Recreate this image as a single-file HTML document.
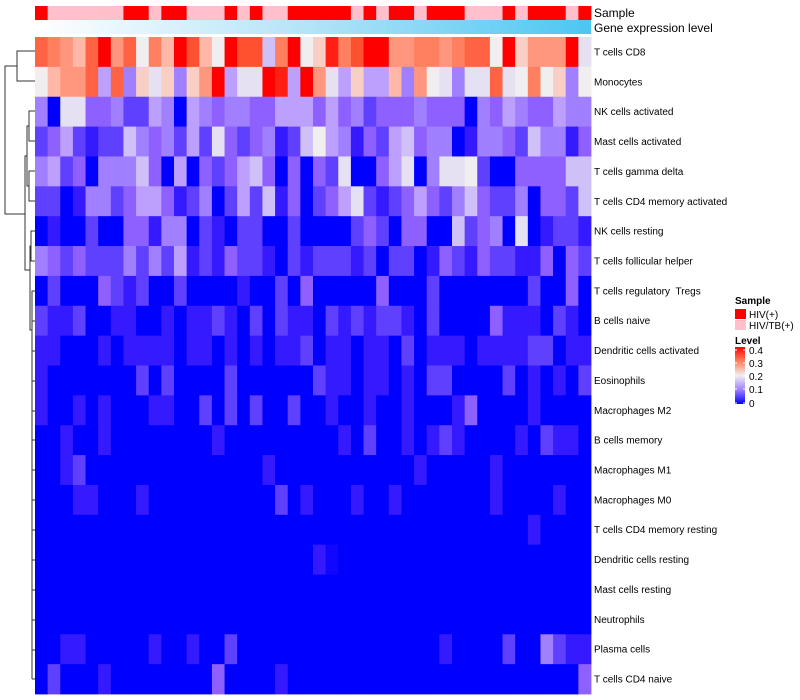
<!DOCTYPE html>
<html><head><meta charset="utf-8">
<style>
html,body{margin:0;padding:0;background:#fff;}
svg{display:block;font-family:"Liberation Sans",sans-serif;}
#labels text{white-space:pre;}
</style></head>
<body>
<svg id="chart" width="800" height="700" viewBox="0 0 800 700" xmlns="http://www.w3.org/2000/svg">
<defs>
<linearGradient id="geneGrad" x1="0" x2="1" y1="0" y2="0">
<stop offset="0" stop-color="#ffffff"/><stop offset="0.5" stop-color="#b2e3f7"/><stop offset="1" stop-color="#4cc6f2"/>
</linearGradient>
<linearGradient id="levelGrad" x1="0" x2="0" y1="1" y2="0">
<stop offset="0" stop-color="#0000ff"/><stop offset="0.25" stop-color="#a080ff"/><stop offset="0.5" stop-color="#f0eeee"/><stop offset="0.75" stop-color="#ff8060"/><stop offset="1" stop-color="#ff0000"/>
</linearGradient>
</defs>
<g id="dendro" stroke="#333" stroke-width="1" fill="none">
<path d="M35 51 H17 V81 H35"/>
<path d="M17 66 H5 V214 H25"/>
<path d="M35 111 H29 V141 H35 M35 171 H29 V201 H35 M29 126 H27 V186 H29"/>
<path d="M27 156 H25 V270 H30"/>
<path d="M35 231 H31 V261 H35 M31 246 H30 V330 H32"/>
<path d="M35 291 H32 V679 M32 321 H35 M32 351 H35 M32 381 H35 M32 411 H35 M32 440 H35 M32 470 H35 M32 500 H35 M32 530 H35 M32 560 H35 M32 590 H35 M32 620 H35 M32 650 H35 M32 679 H35"/>
</g>
<g id="cells"></g>
<g id="annot"></g>
<g id="labels" font-size="10" fill="#000"></g>
<text x="594" y="17" font-size="12">Sample</text>
<text x="594" y="32" font-size="12">Gene expression level</text>
<g>
<text x="735" y="304" font-size="10" font-weight="bold">Sample</text>
<rect x="735" y="309" width="11" height="10" fill="#ff0000"/>
<text x="749" y="318" font-size="10">HIV(+)</text>
<rect x="735" y="320" width="11" height="10" fill="#ffc0cb"/>
<text x="749" y="329" font-size="10">HIV/TB(+)</text>
<text x="735" y="344" font-size="10" font-weight="bold">Level</text>
<rect x="735" y="347" width="10" height="57" fill="url(#levelGrad)"/>
<g stroke="#fff" stroke-width="1">
<path d="M735 350H737M743 350H745M735 363H737M743 363H745M735 376H737M743 376H745M735 389H737M743 389H745M735 403H737M743 403H745"/>
</g>
<g font-size="10">
<text x="749" y="354">0.4</text><text x="749" y="367">0.3</text><text x="749" y="380">0.2</text><text x="749" y="393">0.1</text><text x="749" y="407">0</text>
</g>
</g>
</svg>
<script>
const rowNames = ["T cells CD8","Monocytes","NK cells activated","Mast cells activated","T cells gamma delta","T cells CD4 memory activated","NK cells resting","T cells follicular helper","T cells regulatory\u00a0\u00a0Tregs","B cells naive","Dendritic cells activated","Eosinophils","Macrophages M2","B cells memory","Macrophages M1","Macrophages M0","T cells CD4 memory resting","Dendritic cells resting","Mast cells resting","Neutrophils","Plasma cells","T cells CD4 naive"];
const sampleGroups = ["HIV","HIVTB","HIVTB","HIVTB","HIVTB","HIVTB","HIVTB","HIV","HIV","HIVTB","HIV","HIV","HIVTB","HIVTB","HIVTB","HIV","HIVTB","HIV","HIVTB","HIVTB","HIV","HIV","HIV","HIV","HIV","HIVTB","HIV","HIVTB","HIV","HIV","HIVTB","HIV","HIV","HIV","HIVTB","HIVTB","HIVTB","HIV","HIVTB","HIV","HIV","HIV","HIVTB","HIV"];
const r0 = [.33,.3,.28,.25,.33,.4,.28,.33,.2,.3,.25,.4,.35,.25,.2,.4,.35,.35,.15,.3,.4,.2,.23,.38,.3,.35,.4,.4,.28,.28,.3,.3,.28,.3,.33,.33,.2,.4,.23,.28,.28,.28,.4,.18];
const r1 = [.2,.25,.28,.28,.33,.13,.33,.1,.23,.18,.23,.1,.23,.28,.4,.13,.18,.18,.4,.38,.13,.4,.28,.18,.13,.23,.13,.13,.25,.1,.28,.2,.18,.1,.18,.18,.33,.18,.2,.3,.2,.23,.1,.2];
const r2 = [.1,0,.18,.18,.08,.08,.1,.05,.05,.13,.1,0,.13,.1,.08,.1,.1,.08,.08,.13,.13,.13,.08,.13,.08,.1,.05,.08,.08,.08,.1,.08,.08,.08,0,.1,.08,.13,.1,.08,.08,.13,.1,.1];
const r3 = [.05,.08,.13,.05,.03,.05,.05,.15,.1,.08,.1,.05,.13,.05,.18,.08,.05,.08,.1,.03,.05,.15,.2,.13,.1,.03,.08,.05,.13,.15,.08,.1,.1,0,.03,.1,.1,.08,.05,.15,.1,.1,.03,.08];
const r4 = [.1,.13,.05,.08,0,.1,.1,.1,.15,.08,0,.13,0,.08,.05,.08,.13,.15,.08,0,.08,0,.08,.05,.18,0,0,.08,.13,.18,0,.1,.18,.18,.2,.05,0,0,.08,.08,.08,.08,.15,.15];
const r5 = [.05,.05,0,.03,.1,.1,.05,.08,.13,.13,.08,.03,.05,.1,0,.05,.13,.05,.15,.03,.08,0,.05,.08,.13,.18,.05,.03,.05,.08,.13,.08,.05,.1,.15,.08,.05,.05,.1,0,.08,.08,.05,.15];
const r6 = [0,.03,0,0,.05,0,0,.08,.08,.03,.1,.1,0,.05,.03,0,.05,.05,0,0,.05,0,0,0,0,.05,.08,.05,0,.08,.08,0,0,.15,.05,.08,.1,0,.18,0,.03,.05,.05,.03];
const r7 = [.1,.08,.05,.08,.05,.05,.05,.1,.05,.1,.05,.13,.03,.05,.03,.08,.05,.05,.03,0,.05,.03,.05,.05,.05,.03,.05,0,.05,.05,0,.03,.08,.05,.03,.08,.05,.05,.03,.03,.08,0,.08,.05];
const r8 = [0,.05,0,0,0,.08,.05,.03,.05,0,0,.05,0,0,0,0,.03,0,0,.05,0,.08,0,0,0,0,0,.08,0,0,0,.05,0,0,0,0,0,0,0,.05,0,0,.08,0];
const r9 = [.05,.03,.03,.05,0,0,.03,.03,0,0,.03,0,.03,.03,.05,.03,0,.05,0,.05,.03,.03,0,.05,.03,.05,.03,.05,.05,.03,0,.05,0,0,0,0,.08,.03,.03,.03,0,.05,.03,0];
const r10 = [.03,.03,0,0,0,.03,0,.03,.03,.03,.03,0,.03,.03,0,.03,0,.03,0,.03,.03,.05,0,.03,.03,0,.03,.03,0,.05,0,.03,.03,.03,0,.03,.03,.03,.03,.05,.05,0,.03,.03];
const r11 = [.03,0,0,0,0,0,0,0,.05,0,.05,0,0,0,0,.05,0,0,0,0,0,0,.05,.03,.03,0,.03,.03,0,.03,0,.05,.05,0,0,0,0,.05,0,.03,0,.03,0,.05];
const r12 = [.03,0,0,.03,0,.03,0,0,0,.03,.03,0,0,.05,0,.05,0,.05,0,0,.05,0,0,.03,0,0,.03,0,0,.03,0,0,0,.03,.08,0,0,0,0,.03,0,0,0,0];
const r13 = [0,0,.03,0,0,.03,0,0,0,0,0,0,0,0,.03,0,0,0,0,0,0,0,0,0,.03,0,.05,0,0,.03,0,.03,.05,.03,0,0,0,0,.03,0,.05,.03,.03,0];
const r14 = [0,0,.03,.05,0,0,0,0,0,0,0, 0,0,0,0,0,0,0,.03,0,0,0, 0,0,0,0,0,0,0,0,.03,0,0, 0,0,0,.03,0,0,0,0,0,0,0];
const r15 = [0,0,0,.03,.03,0,0,0,.03,0,0, 0,0,0,0,0,0,0,0,.05,0,.03, 0,0,0,.03,0,0,.03,0,0,0,0, 0,0,0,.03,0,0,0,0,.03,0,0];
const r16 = [0,0,0,0,0,0,0,0,0,0,0, 0,0,0,0,0,0,0,0,0,0,0, 0,0,0,0,0,0,0,0,0,0,0, 0,0,0,0,0,0,.03,0,0,0,0];
const r17 = [0,0,0,0,0,0,0,0,0,0,0, 0,0,0,0,0,0,0,0,0,0,0, .03,.01,0,0,0,0,0,0,0,0,0, 0,0,0,0,0,0,0,0,0,0,0];
const r18 = [0,0,0,0,0,0,0,0,0,0,0, 0,0,0,0,0,0,0,0,0,0,0, 0,0,0,0,0,0,0,0,0,0,0, 0,0,0,0,0,0,0,0,0,0,0];
const r19 = [0,0,0,0,0,0,0,0,0,0,0, 0,0,0,0,0,0,0,0,0,0,0, 0,0,0,0,0,0,0,0,0,0,0, 0,0,0,0,0,0,0,0,0,0,0];
const r20 = [0,0,.03,.03,0,0,0,0,0,.03,0, 0,.03,0,0,.05,0,0,0,0,0,0, 0,0,0,0,0,0,0,0,0,0,.03, 0,0,0,0,.05,0,0,.1,.05,.03,.03];
const r21 = [0,.05,0,0,0,.03,0,0,0,0,0, 0,0,0,.08,0,0,0,0,.03,0,0, 0,0,0,0,0,0,0,0,0,0,0, 0,0,0,0,0,0,0,0,0,0,.08];
const matrix = [r0,r1,r2,r3,r4,r5,r6,r7,r8,r9,r10,r11,r12,r13,r14,r15,r16,r17,r18,r19,r20,r21];

const X0 = 35, X1 = 591, Y0 = 37, Y1 = 694;
const nCol = sampleGroups.length, nRow = rowNames.length;
const cw = (X1 - X0) / nCol, rh = (Y1 - Y0) / nRow;
const xPos = i => X0 + i * cw;
const yPos = j => Y0 + j * rh;
const stops = [[0,[0,0,255]],[0.025,[42,16,255]],[0.05,[96,64,255]],[0.075,[136,88,255]],[0.1,[160,128,255]],[0.125,[184,152,255]],[0.15,[208,192,248]],[0.175,[228,220,244]],[0.2,[240,238,238]],[0.25,[255,184,168]],[0.3,[255,128,96]],[0.35,[255,80,48]],[0.4,[255,0,0]]];
function colorOf(v){
  if (v <= 0) return 'rgb(0,0,255)';
  if (v >= 0.4) return 'rgb(255,0,0)';
  for (let k = 1; k < stops.length; k++){
    if (v <= stops[k][0]){
      const a = stops[k-1], b = stops[k], t = (v - a[0]) / (b[0] - a[0]);
      const c = a[1].map((x, m) => Math.round(x + (b[1][m] - x) * t));
      return 'rgb(' + c.join(',') + ')';
    }
  }
}
const NS = 'http://www.w3.org/2000/svg';
const cells = document.getElementById('cells');
matrix.forEach((row, j) => {
  row.forEach((v, i) => {
    const r = document.createElementNS(NS, 'rect');
    r.setAttribute('x', xPos(i).toFixed(2));
    r.setAttribute('y', yPos(j).toFixed(2));
    r.setAttribute('width', (cw + 0.4).toFixed(2));
    r.setAttribute('height', (rh + 0.4).toFixed(2));
    r.setAttribute('fill', colorOf(v));
    
    
    cells.appendChild(r);
  });
});
const annot = document.getElementById('annot');
sampleGroups.forEach((g, i) => {
  const r = document.createElementNS(NS, 'rect');
  r.setAttribute('x', xPos(i).toFixed(2));
  r.setAttribute('y', 6);
  r.setAttribute('width', (cw + 0.4).toFixed(2));
  r.setAttribute('height', 14);
  r.setAttribute('fill', g === 'HIV' ? '#ff0000' : '#ffc0cb');
  
  
  annot.appendChild(r);
});
const gr = document.createElementNS(NS, 'rect');
gr.setAttribute('x', X0); gr.setAttribute('y', 20);
gr.setAttribute('width', X1 - X0); gr.setAttribute('height', 14);
gr.setAttribute('fill', 'url(#geneGrad)');


annot.appendChild(gr);
const labels = document.getElementById('labels');
rowNames.forEach((n, j) => {
  const t = document.createElementNS(NS, 'text');
  t.setAttribute('x', 594);
  t.setAttribute('y', (yPos(j) + rh / 2 + 3.5).toFixed(1));
  t.textContent = n;
  
  
  labels.appendChild(t);
});
</script>
</body></html>
